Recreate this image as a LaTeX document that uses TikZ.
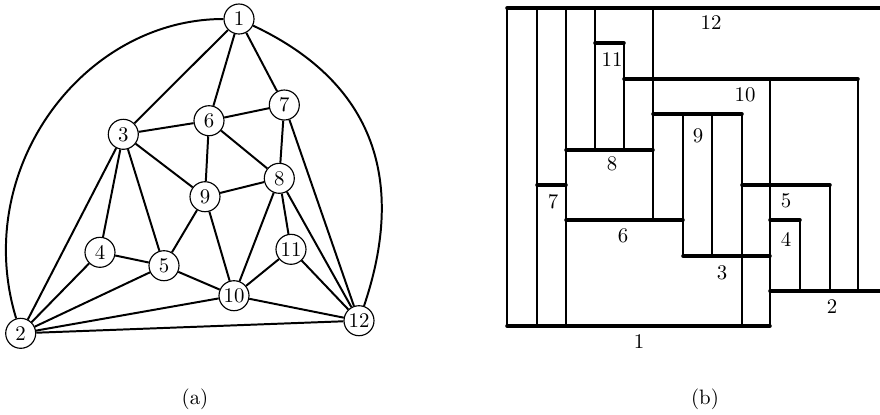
\documentclass[tikz,border=0pt]{standalone}
\begin{document}
\begin{tikzpicture}[x=0.48pt,y=-0.48pt,
  vertex/.style={circle,draw,line width=0.55pt,minimum size=14.4pt,inner sep=0pt},
  edge/.style={line width=0.95pt},
  bar/.style={line width=1.7pt,line cap=round},
  link/.style={line width=0.5pt},
  lbl/.style={inner sep=0pt}]
\useasboundingbox (0,0) rectangle (880,414);

% ---------- (a) planar triangulation ----------
\node[vertex] (n1)  at (239,19)    {1};
\node[vertex] (n2)  at (20.7,333.3) {2};
\node[vertex] (n3)  at (123.3,134.3) {3};
\node[vertex] (n4)  at (100,252.3) {4};
\node[vertex] (n5)  at (164,265.7) {5};
\node[vertex] (n6)  at (209,120.7) {6};
\node[vertex] (n7)  at (284.3,105) {7};
\node[vertex] (n8)  at (279.3,178.3) {8};
\node[vertex] (n9)  at (205,196.7) {9};
\node[vertex] (n10) at (234,295.7) {10};
\node[vertex] (n11) at (291,249.3) {11};
\node[vertex] (n12) at (359,320.7) {12};

\draw[edge] (n1) .. controls +(-156,0) and +(-50,-164) .. (n2);
\draw[edge] (n1) .. controls +(151,71) and +(41,-121) .. (n12);
\foreach \a/\b in {n1/n3, n1/n6, n1/n7, n3/n6, n6/n7, n3/n9, n3/n4, n3/n5,
  n3/n2, n6/n9, n6/n8, n7/n8, n7/n12, n9/n8, n9/n5, n9/n10, n8/n10,
  n8/n11, n8/n12, n4/n5, n4/n2, n5/n2, n5/n10, n10/n11, n10/n2,
  n10/n12, n11/n12, n2/n12}
  \draw[edge] (\a) -- (\b);

\node[lbl] (capa) at (195,399) {(a)};

% ---------- (b) bar representation ----------
% horizontal bars: y, left end, right end
\foreach \y/\l/\r in {8/507/880, 43/595/624, 79/624/858, 114/653/742,
  150/566/653, 185/537/566, 220/566/683, 185/742/830, 220/770/800,
  256/683/770, 291/770/880, 326/507/770}
  \draw[bar] (\l,\y) -- (\r,\y);

% vertical visibility segments: x, top, bottom
\foreach \x/\t/\b in {507/8/326, 537/8/326, 566/8/326, 595/8/150,
  624/43/150, 653/8/220, 683/114/256, 712/114/256, 742/114/326,
  770/79/326, 800/220/291, 830/185/291, 858/79/291}
  \draw[link] (\x,\t) -- (\x,\b);

\node[lbl] (b12) at (711,23)  {12};
\node[lbl] (b11) at (612,60)  {11};
\node[lbl] (b10) at (745,95)  {10};
\node[lbl] (b9)  at (698,136) {9};
\node[lbl] (b8)  at (612,164) {8};
\node[lbl] (b7)  at (553,202) {7};
\node[lbl] (b6)  at (623,236) {6};
\node[lbl] (b5)  at (786,201) {5};
\node[lbl] (b4)  at (786,239) {4};
\node[lbl] (b3)  at (722,273) {3};
\node[lbl] (b2)  at (832,307) {2};
\node[lbl] (b1)  at (639,342) {1};

\node[lbl] (capb) at (705,399) {(b)};
\end{tikzpicture}
\end{document}
